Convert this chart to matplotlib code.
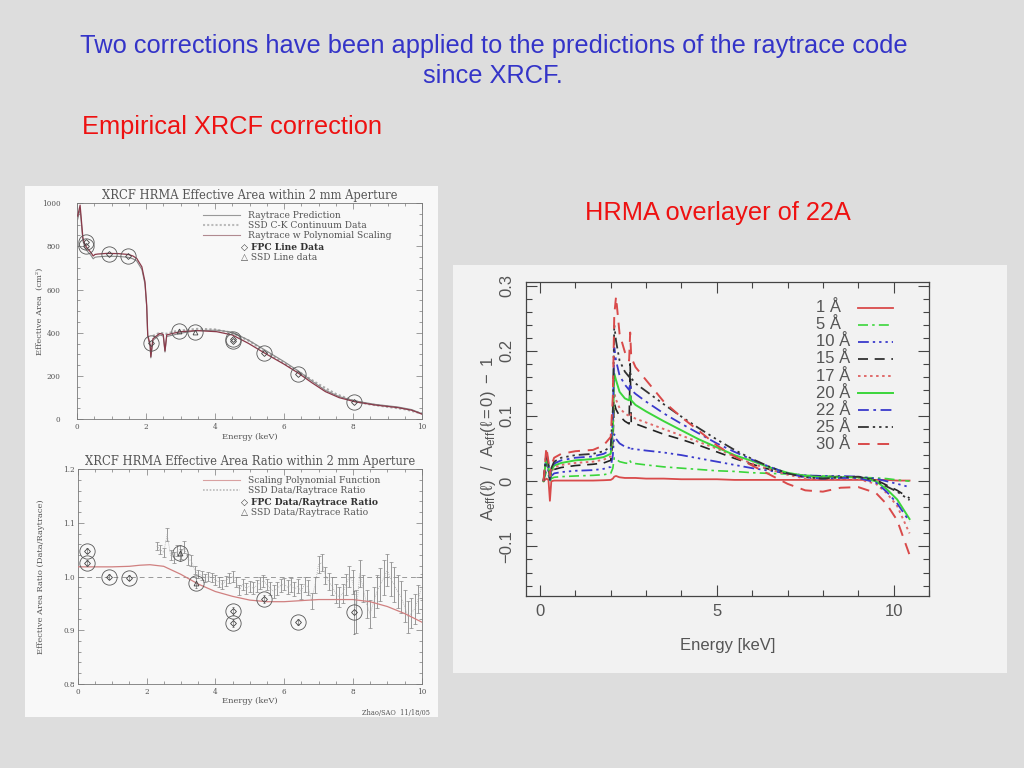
import matplotlib
matplotlib.use('Agg')
import matplotlib.pyplot as plt
from matplotlib.patches import Rectangle
from matplotlib.ticker import MultipleLocator

# ---------------- data ----------------
# Top-left: XRCF HRMA effective area
ea_energy = [0.02, 0.09, 0.17, 0.23, 0.30, 0.40, 0.47, 0.52, 0.60, 0.86, 1.20, 1.49, 1.62, 1.73, 1.88,
             1.97, 2.02, 2.05, 2.12, 2.14, 2.20, 2.30, 2.40, 2.50, 2.55, 2.60, 2.80, 3.00, 3.47, 4.05,
             4.50, 4.97, 5.45, 6.00, 6.42, 6.80, 7.20, 7.60, 8.06, 8.64, 9.30, 9.70, 10.0]
ea_scaled = [940, 990, 840, 806, 790, 772, 755, 762, 764, 767, 766, 762, 755, 744, 705,
             636, 528, 390, 344, 289, 372, 385, 397, 392, 316, 390, 398, 405, 410, 405,
             390, 351, 305, 255, 213, 170, 128, 100, 81, 66, 54, 42, 24]
ea_raytrace = [925, 973, 826, 793, 777, 759, 742, 749, 751, 754, 753, 749, 742, 732, 693,
               625, 519, 383, 338, 284, 365, 378, 390, 385, 311, 383, 390, 398, 410, 412,
               403, 366, 320, 267, 223, 178, 134, 105, 85, 69, 57, 45, 26]
ssd_cont_energy = [2.20, 2.40, 2.60, 2.80, 3.00, 3.50, 4.00, 4.50, 5.00, 5.50, 6.00, 6.50, 7.00,
                   7.50, 8.00, 8.50, 9.00, 9.50, 10.0]
ssd_cont_area = [385, 400, 395, 405, 410, 418, 415, 400, 362, 308, 260, 212, 162, 117, 86, 69, 58, 47, 27]
fpc_energy = [0.26, 0.26, 0.92, 1.48, 2.15, 4.52, 4.52, 5.42, 6.40, 8.04]
fpc_area = [821, 801, 763, 756, 351, 370, 362, 306, 210, 79]
ssdl_energy = [2.97, 3.43]
ssdl_area = [410, 403]

# Bottom-left: ratio
poly_energy = [0.0, 0.5, 1.0, 1.5, 1.8, 2.1, 2.5, 3.0, 3.5, 4.0, 4.5, 5.0, 5.5, 6.0, 6.5, 7.0,
               7.5, 8.0, 8.5, 9.0, 9.5, 10.0]
poly_ratio = [1.018, 1.018, 1.018, 1.019, 1.021, 1.022, 1.019, 1.004, 0.986, 0.972, 0.963, 0.956,
              0.953, 0.953, 0.955, 0.957, 0.957, 0.957, 0.953, 0.944, 0.931, 0.915]
ssdr_energy = [2.3, 2.4, 2.5, 2.6, 2.7, 2.8, 2.9, 3.0, 3.1, 3.2,
               3.3, 3.4, 3.5, 3.6, 3.7, 3.8, 3.9, 4.0, 4.1, 4.2,
               4.3, 4.4, 4.5, 4.6, 4.7, 4.8, 4.9, 5.0, 5.1, 5.2,
               5.3, 5.4, 5.5, 5.6, 5.7, 5.8, 5.9, 6.0, 6.1, 6.2,
               6.3, 6.4, 6.5, 6.6, 6.7, 6.8, 6.9, 7.0, 7.1, 7.2,
               7.3, 7.4, 7.5, 7.6, 7.7, 7.8, 7.9, 8.0, 8.1, 8.2,
               8.3, 8.4, 8.5, 8.6, 8.7, 8.8, 8.9, 9.0, 9.1, 9.2,
               9.3, 9.4, 9.5, 9.6, 9.7, 9.8, 9.9, 10.0]
ssdr_ratio = [1.057, 1.050, 1.045, 1.078, 1.040, 1.035, 1.048, 1.042, 1.055, 1.032,
              1.030, 1.012, 1.005, 1.002, 0.997, 1.000, 0.998, 0.993, 0.990, 0.985,
              0.992, 0.997, 1.000, 0.990, 0.975, 0.985, 0.978, 0.982, 0.978, 0.983,
              0.988, 0.992, 0.985, 0.977, 0.972, 0.978, 0.983, 0.986, 0.980, 0.985,
              0.976, 0.982, 0.972, 0.986, 0.980, 0.955, 0.985, 1.022, 1.026, 1.002,
              0.990, 0.982, 0.968, 0.962, 0.968, 0.985, 1.000, 0.990, 0.935, 1.005,
              0.978, 0.948, 0.930, 0.952, 0.972, 0.985, 0.998, 1.012, 0.995, 0.985,
              0.972, 0.962, 0.945, 0.925, 0.932, 0.940, 0.958, 0.980]
ssdr_err = [0.008, 0.008, 0.008, 0.012, 0.010, 0.010, 0.010, 0.010, 0.012, 0.010,
            0.010, 0.008, 0.008, 0.008, 0.008, 0.008, 0.008, 0.009, 0.009, 0.009,
            0.009, 0.010, 0.010, 0.010, 0.010, 0.010, 0.010, 0.010, 0.011, 0.011,
            0.011, 0.011, 0.011, 0.012, 0.012, 0.012, 0.012, 0.012, 0.013, 0.013,
            0.013, 0.013, 0.014, 0.014, 0.014, 0.015, 0.015, 0.016, 0.016, 0.016,
            0.016, 0.017, 0.018, 0.018, 0.018, 0.019, 0.020, 0.022, 0.040, 0.025,
            0.025, 0.026, 0.027, 0.028, 0.030, 0.030, 0.032, 0.030, 0.032, 0.032,
            0.030, 0.030, 0.030, 0.030, 0.028, 0.028, 0.026, 0.024]
fpcr_energy = [0.26, 0.26, 0.92, 1.48, 4.52, 4.52, 5.43, 6.40, 8.04]
fpcr_ratio = [1.048, 1.025, 1.000, 0.998, 0.936, 0.913, 0.958, 0.915, 0.933]
fpcr_err = [0.005, 0.005, 0.004, 0.004, 0.008, 0.008, 0.008, 0.006, 0.040]
ssdlr_energy = [2.97, 3.43]
ssdlr_ratio = [1.043, 0.988]
ssdlr_err = [0.015, 0.010]

# Right: HRMA overlayer
ov_energy = [0.10, 0.18, 0.24, 0.28, 0.32, 0.40, 0.60, 1.00, 1.50, 1.80, 2.00, 2.06, 2.10, 2.15,
             2.25, 2.40, 2.52, 2.55, 2.58, 2.70, 3.00, 3.50, 4.00, 4.50, 5.00, 5.50, 6.00, 6.50,
             7.00, 7.50, 8.00, 8.50, 9.00, 9.50, 9.80, 10.10, 10.45]
ov_labels = ['1 Å', '5 Å', '10 Å', '15 Å', '17 Å', '20 Å', '22 Å', '25 Å', '30 Å']
ov_1 = [0.000, 0.004, 0.002, -0.030, 0.000, 0.001, 0.001, 0.001, 0.001, 0.0015, 0.002, 0.004, 0.007,
        0.008, 0.006, 0.005, 0.005, 0.005, 0.005, 0.005, 0.004, 0.004, 0.003, 0.003, 0.003, 0.002,
        0.002, 0.002, 0.002, 0.002, 0.002, 0.002, 0.002, 0.002, 0.002, 0.001, 0.001]
ov_5 = [0.000, 0.015, 0.009, 0.000, 0.004, 0.006, 0.007, 0.008, 0.009, 0.010, 0.012, 0.020, 0.036,
        0.034, 0.030, 0.028, 0.027, 0.031, 0.028, 0.027, 0.025, 0.022, 0.020, 0.018, 0.016, 0.015,
        0.013, 0.012, 0.011, 0.009, 0.008, 0.007, 0.006, 0.005, 0.004, 0.002, 0.000]
ov_10 = [0.000, 0.025, 0.015, 0.002, 0.008, 0.012, 0.014, 0.016, 0.017, 0.019, 0.022, 0.040, 0.072,
         0.065, 0.058, 0.053, 0.051, 0.054, 0.050, 0.049, 0.047, 0.044, 0.040, 0.035, 0.030, 0.025,
         0.020, 0.016, 0.012, 0.009, 0.008, 0.008, 0.007, 0.004, 0.000, -0.004, -0.009]
ov_15 = [0.000, 0.030, 0.018, 0.002, 0.012, 0.018, 0.021, 0.024, 0.026, 0.028, 0.032, 0.060, 0.120,
         0.110, 0.100, 0.092, 0.088, 0.180, 0.090, 0.088, 0.082, 0.072, 0.064, 0.055, 0.045, 0.035,
         0.026, 0.018, 0.012, 0.008, 0.007, 0.007, 0.006, 0.002, -0.006, -0.014, -0.026]
ov_17 = [0.000, 0.035, 0.020, 0.002, 0.014, 0.021, 0.025, 0.028, 0.030, 0.033, 0.038, 0.070, 0.135,
         0.125, 0.112, 0.104, 0.100, 0.104, 0.099, 0.096, 0.090, 0.080, 0.070, 0.060, 0.050, 0.038,
         0.027, 0.018, 0.010, 0.004, 0.002, 0.003, 0.003, -0.004, -0.018, -0.038, -0.080]
ov_20 = [0.000, 0.038, 0.022, 0.002, 0.016, 0.024, 0.028, 0.032, 0.034, 0.037, 0.042, 0.080, 0.165,
         0.155, 0.137, 0.127, 0.124, 0.131, 0.124, 0.117, 0.107, 0.092, 0.078, 0.064, 0.052, 0.040,
         0.031, 0.021, 0.013, 0.008, 0.006, 0.006, 0.006, 0.000, -0.012, -0.028, -0.058]
ov_22 = [0.000, 0.041, 0.024, 0.002, 0.018, 0.027, 0.032, 0.036, 0.038, 0.042, 0.048, 0.095, 0.205,
         0.185, 0.162, 0.148, 0.140, 0.150, 0.140, 0.134, 0.122, 0.104, 0.088, 0.073, 0.058, 0.045,
         0.033, 0.022, 0.012, 0.006, 0.004, 0.005, 0.005, -0.002, -0.016, -0.034, -0.062]
ov_25 = [0.000, 0.045, 0.027, 0.003, 0.020, 0.030, 0.036, 0.040, 0.042, 0.046, 0.053, 0.110, 0.240,
         0.215, 0.185, 0.168, 0.160, 0.168, 0.158, 0.150, 0.138, 0.118, 0.099, 0.081, 0.064, 0.048,
         0.034, 0.022, 0.012, 0.006, 0.004, 0.006, 0.007, 0.001, -0.008, -0.016, -0.029]
ov_30 = [0.000, 0.052, 0.030, 0.008, 0.024, 0.036, 0.042, 0.046, 0.048, 0.055, 0.068, 0.130, 0.255,
         0.283, 0.226, 0.198, 0.185, 0.228, 0.190, 0.175, 0.155, 0.122, 0.098, 0.077, 0.055, 0.038,
         0.024, 0.010, -0.004, -0.014, -0.016, -0.010, -0.009, -0.018, -0.035, -0.060, -0.113]
ov_series = [ov_1, ov_5, ov_10, ov_15, ov_17, ov_20, ov_22, ov_25, ov_30]

# ---------------- styling ----------------
RED = '#d94a4a'
GREEN = '#3bd63b'
BLUE = '#3a3acc'
BLACK = '#222222'
DD3 = (0, (6, 2.2, 1.3, 2.2, 1.3, 2.2, 1.3, 2.2))
ov_styles = [
    dict(color=RED, ls='-', lw=1.3),
    dict(color=GREEN, ls=(0, (6, 2.5, 1.5, 2.5)), lw=1.2),
    dict(color=BLUE, ls=DD3, lw=1.3),
    dict(color=BLACK, ls=(0, (6, 4)), lw=1.2),
    dict(color='#e06a6a', ls=(0, (1.3, 1.8)), lw=1.4),
    dict(color=GREEN, ls='-', lw=1.4),
    dict(color=BLUE, ls=(0, (6, 2.5, 1.5, 2.5)), lw=1.3),
    dict(color='#333333', ls=DD3, lw=1.3),
    dict(color=RED, ls=(0, (6, 4)), lw=1.4),
]

W, H = 1024, 768


def rect(x0, y0, x1, y1):
    return [x0 / W, 1 - y1 / H, (x1 - x0) / W, (y1 - y0) / H]


fig = plt.figure(figsize=(10.24, 7.68), dpi=100, facecolor='#dddddd')

# panels
fig.add_artist(Rectangle((25 / W, 1 - 717 / H), 413 / W, 531 / H, transform=fig.transFigure,
                         facecolor='#f8f8f8', edgecolor='none', zorder=-10))
fig.add_artist(Rectangle((453 / W, 1 - 673 / H), 554 / W, 408 / H, transform=fig.transFigure,
                         facecolor='#f2f2f2', edgecolor='none', zorder=-10))

# slide text
SLIDE_FS = 18.3
fig.text(494 / W, 1 - 46 / H, 'Two corrections have been applied to the predictions of the raytrace code',
         ha='center', va='center', fontsize=SLIDE_FS, color='#3434c8', family='Liberation Sans')
fig.text(493 / W, 1 - 76 / H, 'since XRCF.', ha='center', va='center', fontsize=SLIDE_FS,
         color='#3434c8', family='Liberation Sans')
fig.text(82 / W, 1 - 127 / H, 'Empirical XRCF correction', ha='left', va='center', fontsize=SLIDE_FS,
         color='#ee1111', family='Liberation Sans')
fig.text(585 / W, 1 - 213 / H, 'HRMA overlayer of 22A', ha='left', va='center', fontsize=SLIDE_FS,
         color='#ee1111', family='Liberation Sans')

SERIF = ['DejaVu Serif', 'DejaVu Sans']
LTXT = '#555555'
LAX = '#777777'
LEG_FS = 6.6


def style_left(ax):
    ax.set_facecolor('#f8f8f8')
    for s in ax.spines.values():
        s.set_color(LAX)
        s.set_linewidth(0.6)
    ax.tick_params(which='both', direction='in', top=True, right=True, color=LAX, width=0.5,
                   labelsize=5.2, labelcolor=LTXT)
    ax.tick_params(which='major', length=4)
    ax.tick_params(which='minor', length=2)
    for lab in ax.get_xticklabels() + ax.get_yticklabels():
        lab.set_family(SERIF)


# ---- top-left ----
ax1 = fig.add_axes(rect(77, 203, 422, 419.3))
ax1.plot(ssd_cont_energy, ssd_cont_area, color='#aaaaaa', ls=(0, (1, 1)), lw=1.6, zorder=2)
ax1.plot(ea_energy, ea_raytrace, color='#888888', lw=0.8, zorder=3)
ax1.plot(ea_energy, ea_scaled, color='#8a3a4a', lw=0.9, zorder=4)
ax1.plot(fpc_energy, fpc_area, 'D', ms=3, mfc='none', mec='#444444', mew=0.6, zorder=5)
ax1.plot(ssdl_energy, ssdl_area, '^', ms=3.5, mfc='none', mec='#444444', mew=0.6, zorder=5)
ax1.plot(fpc_energy + ssdl_energy, fpc_area + ssdl_area, 'o', ms=11, mfc='none', mec='#555555',
         mew=0.6, zorder=5)
ax1.set_xlim(0, 10)
ax1.set_ylim(0, 1000)
ax1.xaxis.set_major_locator(MultipleLocator(2))
ax1.xaxis.set_minor_locator(MultipleLocator(0.5))
ax1.yaxis.set_major_locator(MultipleLocator(200))
ax1.yaxis.set_minor_locator(MultipleLocator(50))
ax1.tick_params(axis='y', pad=12)
ax1.tick_params(axis='x', pad=3)
style_left(ax1)
ax1.set_title('XRCF HRMA Effective Area within 2 mm Aperture', fontsize=8.3, color=LTXT,
              family=SERIF, pad=3)
ax1.set_xlabel('Energy (keV)', fontsize=6, color=LTXT, family=SERIF, labelpad=1)
ax1.set_ylabel('Effective Area  (cm²)', fontsize=6, color=LTXT, family=SERIF)
ax1.yaxis.set_label_coords(-0.095, 0.5)
# legend (top-left)
leg1 = [('Raytrace Prediction', dict(color='#999999', ls='-', lw=0.8)),
        ('SSD C-K Continuum Data', dict(color='#bbbbbb', ls=(0, (1, 1)), lw=1.5)),
        ('Raytrace w Polynomial Scaling', dict(color='#b08a90', ls='-', lw=0.8))]
for i, (txt, st) in enumerate(leg1):
    yy = 0.9445 - i * 0.0463
    ax1.plot([0.365, 0.472], [yy, yy], transform=ax1.transAxes, **st)
    ax1.text(0.496, yy, txt, transform=ax1.transAxes, fontsize=LEG_FS, color=LTXT, family=SERIF,
             va='center')
ax1.text(0.475, 0.797, '◇ FPC Line Data', transform=ax1.transAxes, fontsize=LEG_FS, color='#333333',
         family=SERIF, va='center', weight='bold')
ax1.text(0.475, 0.750, '△ SSD Line data', transform=ax1.transAxes, fontsize=LEG_FS, color=LTXT,
         family=SERIF, va='center')

# ---- bottom-left ----
ax2 = fig.add_axes(rect(77.7, 469.3, 421.7, 683.7))
ax2.axhline(1.0, color='#999999', ls=(0, (5, 4)), lw=0.7, zorder=1)
ax2.plot(poly_energy, poly_ratio, color='#d08080', lw=0.9, zorder=3)
ax2.errorbar(ssdr_energy, ssdr_ratio, yerr=ssdr_err, fmt='none', ecolor='#888888', elinewidth=0.6,
             capsize=1.2, capthick=0.5, zorder=2)
ax2.plot(ssdr_energy, ssdr_ratio, color='#aaaaaa', ls=(0, (1, 1.5)), lw=0.6, zorder=2)
ax2.errorbar(fpcr_energy, fpcr_ratio, yerr=fpcr_err, fmt='D', ms=3, mfc='none', mec='#444444',
             mew=0.6, ecolor='#777777', elinewidth=0.5, capsize=1, zorder=5)
ax2.errorbar(ssdlr_energy, ssdlr_ratio, yerr=ssdlr_err, fmt='^', ms=3.5, mfc='none', mec='#444444',
             mew=0.6, ecolor='#777777', elinewidth=0.5, capsize=1, zorder=5)
ax2.plot(fpcr_energy + ssdlr_energy, fpcr_ratio + ssdlr_ratio, 'o', ms=11, mfc='none',
         mec='#555555', mew=0.6, zorder=5)
ax2.set_xlim(0, 10)
ax2.set_ylim(0.8, 1.2)
ax2.xaxis.set_major_locator(MultipleLocator(2))
ax2.xaxis.set_minor_locator(MultipleLocator(0.5))
ax2.set_yticks([0.8, 0.9, 1.0, 1.1, 1.2])
ax2.set_yticklabels(['0.8', '0.9', '1.0', '1.1', '1.2'])
ax2.yaxis.set_minor_locator(MultipleLocator(0.02))
ax2.tick_params(axis='y', pad=2)
ax2.tick_params(axis='x', pad=3)
style_left(ax2)
ax2.set_title('XRCF HRMA Effective Area Ratio within 2 mm Aperture', fontsize=8.3, color=LTXT,
              family=SERIF, pad=3)
ax2.set_xlabel('Energy (keV)', fontsize=6, color=LTXT, family=SERIF, labelpad=1)
ax2.set_ylabel('Effective Area Ratio (Data/Raytrace)', fontsize=6, color=LTXT, family=SERIF)
ax2.yaxis.set_label_coords(-0.095, 0.5)
leg2 = [('Scaling Polynomial Function', dict(color='#d8a0a0', ls='-', lw=0.8)),
        ('SSD Data/Raytrace Ratio', dict(color='#bbbbbb', ls=(0, (1, 1)), lw=1.2))]
for i, (txt, st) in enumerate(leg2):
    yy = 0.950 - i * 0.047
    ax2.plot([0.364, 0.472], [yy, yy], transform=ax2.transAxes, **st)
    ax2.text(0.495, yy, txt, transform=ax2.transAxes, fontsize=LEG_FS, color=LTXT, family=SERIF,
             va='center')
ax2.text(0.474, 0.847, '◇ FPC Data/Raytrace Ratio', transform=ax2.transAxes, fontsize=LEG_FS,
         color='#333333', family=SERIF, va='center', weight='bold')
ax2.text(0.474, 0.800, '△ SSD Data/Raytrace Ratio', transform=ax2.transAxes, fontsize=LEG_FS,
         color=LTXT, family=SERIF, va='center')
fig.text(430 / W, 1 - 713 / H, 'Zhao/SAO  11/18/05', ha='right', va='center', fontsize=4.8,
         color=LTXT, family=SERIF)

# ---- right ----
plt.rcParams['mathtext.fontset'] = 'custom'
plt.rcParams['mathtext.rm'] = 'Liberation Sans'
plt.rcParams['mathtext.it'] = 'Liberation Sans:italic'
RTXT = '#555555'
ax3 = fig.add_axes(rect(525.5, 282.3, 929, 596))
ax3.set_facecolor('#f2f2f2')
for yvals, st in zip(ov_series, ov_styles):
    ax3.plot(ov_energy, yvals, **st)
ax3.set_xlim(-0.41, 11.0)
ax3.set_ylim(-0.176, 0.305)
ax3.set_xticks([0, 5, 10])
ax3.set_xticklabels(['0', '5', '10'])
ax3.xaxis.set_minor_locator(MultipleLocator(1))
ax3.set_yticks([-0.1, 0.0, 0.1, 0.2, 0.3])
ax3.set_yticklabels(['−0.1', '0', '0.1', '0.2', '0.3'])
ax3.yaxis.set_minor_locator(MultipleLocator(0.02))
for s in ax3.spines.values():
    s.set_color('#444444')
    s.set_linewidth(0.9)
ax3.tick_params(which='both', direction='in', top=True, right=True, color='#444444', width=0.8,
                labelsize=12, labelcolor=RTXT)
ax3.tick_params(which='major', length=8)
ax3.tick_params(which='minor', length=4)
ax3.tick_params(axis='x', pad=6)
ax3.tick_params(axis='y', pad=8, labelrotation=90)
for lab in ax3.get_xticklabels() + ax3.get_yticklabels():
    lab.set_family('Liberation Sans')
for lab in ax3.get_yticklabels():
    lab.set_va('center')
ax3.set_xlabel('Energy [keV]', fontsize=12, color=RTXT, family='Liberation Sans')
ax3.xaxis.set_label_coords(0.5, -0.134)
ax3.set_ylabel(r'$\rm A_{eff}(\ell)\ \ /\ \ A_{eff}(\ell{=}0)\ -\ 1$', fontsize=12, color=RTXT)
ax3.yaxis.set_label_coords(-0.068, 0.5)
for i, (lab, st) in enumerate(zip(ov_labels, ov_styles)):
    yy = 0.919 - i * 0.0545
    ax3.text(0.72, yy, lab, transform=ax3.transAxes, fontsize=12, color=RTXT,
             family='Liberation Sans', va='center')
    ax3.plot([0.824, 0.911], [yy, yy], transform=ax3.transAxes, **st)

fig.savefig('out.png', dpi=100, facecolor=fig.get_facecolor())
